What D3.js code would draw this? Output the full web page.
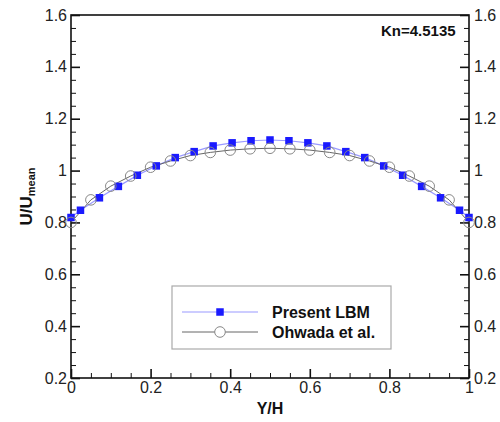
<!DOCTYPE html>
<html><head><meta charset="utf-8">
<script src="https://cdn.jsdelivr.net/npm/d3@7/dist/d3.min.js"></script>
<style>body{margin:0;background:#fff}svg{display:block;font-family:"Liberation Sans",Arial,sans-serif}</style>
</head><body><svg id="c" width="500" height="422"></svg>
<script>
// LBM data (Y/H, U/Umean)
const lbmX = [0, 0.0238, 0.0714, 0.1190, 0.1667, 0.2143, 0.2619, 0.3095, 0.3571, 0.4048, 0.4524, 0.5, 0.5476, 0.5952, 0.6429, 0.6905, 0.7381, 0.7857, 0.8333, 0.8810, 0.9286, 0.9762, 1];
const lbmY = [0.819, 0.847, 0.895, 0.939, 0.982, 1.018, 1.050, 1.073, 1.095, 1.107, 1.115, 1.118, 1.115, 1.107, 1.095, 1.073, 1.050, 1.018, 0.982, 0.939, 0.895, 0.847, 0.819];
// Ohwada et al. data
const ohX = [0, 0.05, 0.1, 0.15, 0.2, 0.25, 0.3, 0.35, 0.4, 0.45, 0.5, 0.55, 0.6, 0.65, 0.7, 0.75, 0.8, 0.85, 0.9, 0.95, 1];
const ohY = [0.800, 0.887, 0.940, 0.979, 1.013, 1.037, 1.058, 1.070, 1.079, 1.084, 1.086, 1.084, 1.079, 1.070, 1.058, 1.037, 1.013, 0.979, 0.940, 0.887, 0.800];
const xTicks = [0, 0.2, 0.4, 0.6, 0.8, 1];
const yTicks = [0.2, 0.4, 0.6, 0.8, 1, 1.2, 1.4, 1.6];
const seriesNames = ["Present LBM", "Ohwada et al."];
const annotation = "Kn=4.5135";

const L = 71, R = 469, T = 15, B = 378;
const svg = d3.select("#c");
const x = d3.scaleLinear().domain([0, 1]).range([L, R]);
const y = d3.scaleLinear().domain([0.2, 1.6]).range([B, T]);
const fmt = d => d === 1 ? "1" : d === 0 ? "0" : d3.format(".1f")(d);

const xMinor = d3.range(0, 1.0001, 0.05).filter(v => !xTicks.some(t => Math.abs(t - v) < 1e-6));
const yMinor = d3.range(0.2, 1.6001, 0.05).filter(v => !yTicks.some(t => Math.abs(t - v) < 1e-6));

// frame
svg.append("rect").attr("x", L).attr("y", T).attr("width", R - L).attr("height", B - T)
  .attr("fill", "none").attr("stroke", "#111").attr("stroke-width", 1.6);

// bottom axis
const gx = svg.append("g").attr("transform", `translate(0,${B})`)
  .call(d3.axisBottom(x).tickValues(xTicks).tickFormat(fmt).tickSizeInner(-9).tickSizeOuter(0).tickPadding(4));
gx.select(".domain").remove();
gx.selectAll("line").attr("stroke", "#111").attr("stroke-width", 1.6);
gx.selectAll("text").attr("font-size", 16).attr("fill", "#222");
svg.append("g").attr("transform", `translate(0,${B})`)
  .call(d3.axisBottom(x).tickValues(xMinor).tickFormat("").tickSizeInner(-5).tickSizeOuter(0))
  .call(g => g.select(".domain").remove())
  .selectAll("line").attr("stroke", "#111").attr("stroke-width", 1);

// left axis
const gl = svg.append("g").attr("transform", `translate(${L},0)`)
  .call(d3.axisLeft(y).tickValues(yTicks).tickFormat(fmt).tickSizeInner(-9).tickSizeOuter(0).tickPadding(4));
gl.select(".domain").remove();
gl.selectAll("line").attr("stroke", "#111").attr("stroke-width", 1.6);
gl.selectAll("text").attr("font-size", 16).attr("fill", "#222");
svg.append("g").attr("transform", `translate(${L},0)`)
  .call(d3.axisLeft(y).tickValues(yMinor).tickFormat("").tickSizeInner(-5).tickSizeOuter(0))
  .call(g => g.select(".domain").remove())
  .selectAll("line").attr("stroke", "#111").attr("stroke-width", 1);

// right axis
const gr = svg.append("g").attr("transform", `translate(${R},0)`)
  .call(d3.axisRight(y).tickValues(yTicks).tickFormat(fmt).tickSizeInner(-9).tickSizeOuter(0).tickPadding(5));
gr.select(".domain").remove();
gr.selectAll("line").attr("stroke", "#111").attr("stroke-width", 1.6);
gr.selectAll("text").attr("font-size", 16).attr("fill", "#222");
svg.append("g").attr("transform", `translate(${R},0)`)
  .call(d3.axisRight(y).tickValues(yMinor).tickFormat("").tickSizeInner(-5).tickSizeOuter(0))
  .call(g => g.select(".domain").remove())
  .selectAll("line").attr("stroke", "#111").attr("stroke-width", 1);

// series
const lbm = lbmX.map((v, i) => [v, lbmY[i]]);
const oh = ohX.map((v, i) => [v, ohY[i]]);
const line = d3.line().x(d => x(d[0])).y(d => y(d[1]));
svg.append("path").datum(lbm).attr("d", line).attr("fill", "none").attr("stroke", "#9a9aff").attr("stroke-width", 1.2);
svg.append("path").datum(oh).attr("d", line).attr("fill", "none").attr("stroke", "#666").attr("stroke-width", 1);
const sq = 7.5;
svg.append("g").selectAll("rect").data(lbm).join("rect")
  .attr("x", d => x(d[0]) - sq / 2).attr("y", d => y(d[1]) - sq / 2)
  .attr("width", sq).attr("height", sq).attr("fill", "#1a1aff");
svg.append("g").selectAll("circle").data(oh).join("circle")
  .attr("cx", d => x(d[0])).attr("cy", d => y(d[1])).attr("r", 5.3)
  .attr("fill", "none").attr("stroke", "#888").attr("stroke-width", 1);

// annotation
svg.append("text").attr("x", 381).attr("y", 36).attr("font-size", 15).attr("font-weight", "bold")
  .attr("fill", "#111").text(annotation);

// legend
const lg = svg.append("g");
lg.append("rect").attr("x", 172).attr("y", 286).attr("width", 219).attr("height", 63)
  .attr("fill", "#fff").attr("stroke", "#aaa").attr("stroke-width", 1.2);
const rows = [312, 332];
lg.append("line").attr("x1", 182).attr("x2", 258).attr("y1", rows[0]).attr("y2", rows[0]).attr("stroke", "#9a9aff").attr("stroke-width", 1.2);
lg.append("rect").attr("x", 220 - sq / 2).attr("y", rows[0] - sq / 2).attr("width", sq).attr("height", sq).attr("fill", "#1a1aff");
lg.append("line").attr("x1", 182).attr("x2", 258).attr("y1", rows[1]).attr("y2", rows[1]).attr("stroke", "#666").attr("stroke-width", 1);
lg.append("circle").attr("cx", 220).attr("cy", rows[1]).attr("r", 5.3).attr("fill", "#fff").attr("stroke", "#888");
seriesNames.forEach((n, i) => {
  lg.append("text").attr("x", 272).attr("y", rows[i]).attr("dy", "0.36em").attr("font-size", 16)
    .attr("font-weight", "bold").attr("fill", "#111").text(n);
});

// axis titles
svg.append("text").attr("x", (L + R) / 2).attr("y", 414).attr("text-anchor", "middle")
  .attr("font-size", 16).attr("font-weight", "bold").attr("fill", "#111").text("Y/H");
const yt = svg.append("text").attr("transform", `translate(32,${(T + B) / 2}) rotate(-90)`)
  .attr("text-anchor", "middle").attr("font-weight", "bold").attr("fill", "#111").attr("font-size", 17);
yt.append("tspan").text("U/U");
yt.append("tspan").attr("font-size", 11).attr("dy", 3).text("mean");
</script></body></html>
